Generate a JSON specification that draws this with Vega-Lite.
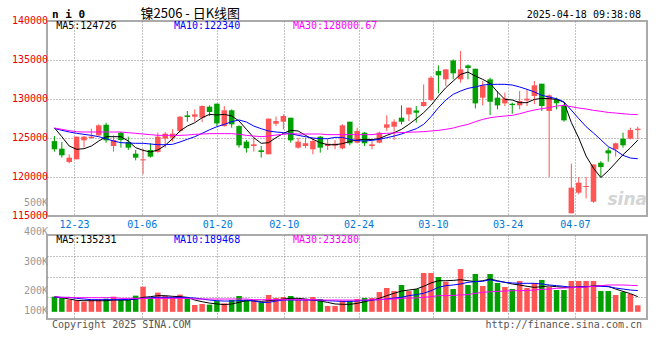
{
"$schema": "https://vega.github.io/schema/vega-lite/v6.json",
"background": "white",
"padding": {"left": 10, "top": 6, "right": 0, "bottom": 0},
"spacing": -4,
"config": {
 "view": {"stroke": "#aaaaaa", "strokeWidth": 2},
 "axis": {"ticks": false, "domain": false, "labelFont": "DejaVu Sans Mono", "labelFontSize": 10, "gridColor": "#888888", "gridDash": [1, 2], "gridWidth": 1, "gridOpacity": 1, "labelFlush": false, "labelOverlap": false}
},
"data": {"values": [
{"i":0,"d":"12-18","o":124600,"h":125250,"l":123250,"c":123550,"v":135000,"m5":126300,"m10":126230,"m30":126280,"vm5":135000,"vm10":129000,"vm30":135000},
{"i":1,"d":"12-19","o":123630,"h":124490,"l":122480,"c":122780,"v":126000,"m5":125170,"m10":125980,"m30":126110,"vm5":126000,"vm10":129000,"vm30":129000},
{"i":2,"d":"12-20","o":121920,"h":122900,"l":121750,"c":122480,"v":108000,"m5":123970,"m10":125770,"m30":125940,"vm5":114000,"vm10":129000,"vm30":126000},
{"i":3,"d":"12-23","o":122270,"h":125170,"l":122270,"c":125170,"v":102000,"m5":123550,"m10":125600,"m30":125810,"vm5":102000,"vm10":120000,"vm30":126000},
{"i":4,"d":"12-24","o":124700,"h":125250,"l":123800,"c":125170,"v":90000,"m5":123630,"m10":125470,"m30":125770,"vm5":99000,"vm10":114000,"vm30":126000},
{"i":5,"d":"12-25","o":125000,"h":126200,"l":124900,"c":125170,"v":108000,"m5":123970,"m10":125340,"m30":125770,"vm5":99000,"vm10":108000,"vm30":126000},
{"i":6,"d":"12-26","o":125340,"h":126750,"l":125250,"c":126620,"v":111000,"m5":124610,"m10":125170,"m30":125770,"vm5":99000,"vm10":108000,"vm30":126000},
{"i":7,"d":"12-27","o":126700,"h":126960,"l":124400,"c":124700,"v":117000,"m5":125170,"m10":124910,"m30":125770,"vm5":99000,"vm10":108000,"vm30":126000},
{"i":8,"d":"12-30","o":123970,"h":125340,"l":123250,"c":124740,"v":135000,"m5":125170,"m10":124610,"m30":125770,"vm5":105000,"vm10":108000,"vm30":126000},
{"i":9,"d":"12-31","o":125680,"h":125770,"l":123760,"c":124740,"v":108000,"m5":125170,"m10":124400,"m30":125770,"vm5":105000,"vm10":108000,"vm30":120000},
{"i":10,"d":"01-02","o":124480,"h":125170,"l":123460,"c":123760,"v":108000,"m5":124610,"m10":124360,"m30":125680,"vm5":105000,"vm10":111000,"vm30":120000},
{"i":11,"d":"01-03","o":122990,"h":123460,"l":122130,"c":122480,"v":144000,"m5":123760,"m10":124320,"m30":125600,"vm5":114000,"vm10":114000,"vm30":120000},
{"i":12,"d":"01-06","o":122130,"h":123630,"l":120340,"c":122270,"v":224000,"m5":123420,"m10":124320,"m30":125510,"vm5":129000,"vm10":120000,"vm30":120000},
{"i":13,"d":"01-07","o":123460,"h":124320,"l":122480,"c":122610,"v":123000,"m5":123200,"m10":124230,"m30":125430,"vm5":135000,"vm10":126000,"vm30":120000},
{"i":14,"d":"01-08","o":123210,"h":125680,"l":123120,"c":125170,"v":171000,"m5":123460,"m10":124140,"m30":125340,"vm5":144000,"vm10":129000,"vm30":120000},
{"i":15,"d":"01-09","o":124920,"h":125770,"l":123760,"c":125550,"v":141000,"m5":124060,"m10":124140,"m30":125340,"vm5":144000,"vm10":129000,"vm30":120000},
{"i":16,"d":"01-10","o":125040,"h":126110,"l":124530,"c":125550,"v":129000,"m5":124920,"m10":124190,"m30":125340,"vm5":138000,"vm10":129000,"vm30":120000},
{"i":17,"d":"01-13","o":125900,"h":127820,"l":125680,"c":127730,"v":153000,"m5":125900,"m10":124490,"m30":125340,"vm5":135000,"vm10":129000,"vm30":120000},
{"i":18,"d":"01-14","o":127900,"h":128460,"l":127100,"c":127690,"v":123000,"m5":126530,"m10":124830,"m30":125380,"vm5":129000,"vm10":126000,"vm30":120000},
{"i":19,"d":"01-15","o":127730,"h":128670,"l":127100,"c":128030,"v":61000,"m5":126960,"m10":125170,"m30":125470,"vm5":105000,"vm10":123000,"vm30":114000},
{"i":20,"d":"01-16","o":127600,"h":129180,"l":127050,"c":129100,"v":70000,"m5":127600,"m10":125600,"m30":125510,"vm5":90000,"vm10":114000,"vm30":114000},
{"i":21,"d":"01-17","o":129010,"h":129180,"l":127820,"c":128330,"v":64000,"m5":128030,"m10":126050,"m30":125560,"vm5":78000,"vm10":105000,"vm30":114000},
{"i":22,"d":"01-20","o":129400,"h":129400,"l":126530,"c":126870,"v":96000,"m5":127950,"m10":126450,"m30":125560,"vm5":70000,"vm10":99000,"vm30":114000},
{"i":23,"d":"01-21","o":126530,"h":129100,"l":126450,"c":128550,"v":75000,"m5":128030,"m10":126750,"m30":125560,"vm5":64000,"vm10":96000,"vm30":114000},
{"i":24,"d":"01-22","o":128550,"h":128670,"l":126320,"c":126750,"v":105000,"m5":127820,"m10":127090,"m30":125560,"vm5":70000,"vm10":96000,"vm30":114000},
{"i":25,"d":"01-23","o":126530,"h":126620,"l":123760,"c":124060,"v":141000,"m5":127180,"m10":127310,"m30":125470,"vm5":84000,"vm10":99000,"vm30":114000},
{"i":26,"d":"01-24","o":124530,"h":124740,"l":123120,"c":123680,"v":105000,"m5":126110,"m10":127050,"m30":125340,"vm5":99000,"vm10":105000,"vm30":114000},
{"i":27,"d":"01-27","o":123970,"h":125040,"l":123250,"c":124190,"v":99000,"m5":125040,"m10":126530,"m30":125250,"vm5":99000,"vm10":96000,"vm30":108000},
{"i":28,"d":"02-05","o":123420,"h":123970,"l":122480,"c":123200,"v":84000,"m5":124320,"m10":126190,"m30":125170,"vm5":93000,"vm10":84000,"vm30":108000},
{"i":29,"d":"02-06","o":122910,"h":127480,"l":122910,"c":127480,"v":150000,"m5":124400,"m10":125900,"m30":125250,"vm5":99000,"vm10":84000,"vm30":108000},
{"i":30,"d":"02-07","o":126830,"h":127740,"l":126530,"c":127170,"v":123000,"m5":125040,"m10":125770,"m30":125380,"vm5":105000,"vm10":96000,"vm30":108000},
{"i":31,"d":"02-10","o":127090,"h":128030,"l":126110,"c":127820,"v":132000,"m5":125600,"m10":125680,"m30":125470,"vm5":114000,"vm10":105000,"vm30":108000},
{"i":32,"d":"02-11","o":127600,"h":127600,"l":124400,"c":124700,"v":141000,"m5":125980,"m10":125550,"m30":125560,"vm5":120000,"vm10":105000,"vm30":108000},
{"i":33,"d":"02-12","o":123760,"h":125040,"l":123630,"c":124530,"v":105000,"m5":125900,"m10":125340,"m30":125510,"vm5":120000,"vm10":105000,"vm30":108000},
{"i":34,"d":"02-13","o":123970,"h":125040,"l":123680,"c":124320,"v":105000,"m5":125340,"m10":125170,"m30":125510,"vm5":114000,"vm10":105000,"vm30":108000},
{"i":35,"d":"02-14","o":123550,"h":125040,"l":122910,"c":124610,"v":132000,"m5":124830,"m10":125000,"m30":125510,"vm5":105000,"vm10":105000,"vm30":108000},
{"i":36,"d":"02-17","o":125170,"h":125250,"l":123120,"c":123760,"v":114000,"m5":124400,"m10":124910,"m30":125510,"vm5":96000,"vm10":105000,"vm30":105000},
{"i":37,"d":"02-18","o":123970,"h":124830,"l":123460,"c":124270,"v":52000,"m5":124140,"m10":124910,"m30":125430,"vm5":84000,"vm10":99000,"vm30":105000},
{"i":38,"d":"02-19","o":124020,"h":124740,"l":123550,"c":124270,"v":52000,"m5":124140,"m10":125080,"m30":125430,"vm5":70000,"vm10":96000,"vm30":105000},
{"i":39,"d":"02-20","o":123680,"h":126750,"l":123550,"c":126620,"v":99000,"m5":124270,"m10":125080,"m30":125430,"vm5":67000,"vm10":93000,"vm30":105000},
{"i":40,"d":"02-21","o":127090,"h":127090,"l":124060,"c":124320,"v":99000,"m5":124570,"m10":124830,"m30":125430,"vm5":67000,"vm10":93000,"vm30":105000},
{"i":41,"d":"02-24","o":124400,"h":126320,"l":124320,"c":125900,"v":114000,"m5":124740,"m10":124660,"m30":125430,"vm5":75000,"vm10":96000,"vm30":105000},
{"i":42,"d":"02-25","o":125680,"h":125770,"l":123970,"c":124320,"v":123000,"m5":124830,"m10":124610,"m30":125430,"vm5":90000,"vm10":102000,"vm30":105000},
{"i":43,"d":"02-26","o":123970,"h":124620,"l":123550,"c":124190,"v":123000,"m5":124790,"m10":124700,"m30":125430,"vm5":105000,"vm10":105000,"vm30":107000},
{"i":44,"d":"02-27","o":124400,"h":125810,"l":124320,"c":125680,"v":176000,"m5":124920,"m10":124830,"m30":125550,"vm5":120000,"vm10":108000,"vm30":110000},
{"i":45,"d":"02-28","o":126320,"h":127900,"l":125900,"c":126750,"v":212000,"m5":125340,"m10":125040,"m30":125600,"vm5":144000,"vm10":114000,"vm30":112000},
{"i":46,"d":"03-03","o":126450,"h":127390,"l":124740,"c":127090,"v":185000,"m5":125680,"m10":125250,"m30":125650,"vm5":165000,"vm10":123000,"vm30":114000},
{"i":47,"d":"03-04","o":127600,"h":129180,"l":126750,"c":127090,"v":239000,"m5":126110,"m10":125510,"m30":125700,"vm5":185000,"vm10":129000,"vm30":120000},
{"i":48,"d":"03-05","o":128030,"h":128890,"l":127180,"c":128890,"v":185000,"m5":126750,"m10":125860,"m30":125740,"vm5":194000,"vm10":144000,"vm30":123000},
{"i":49,"d":"03-06","o":128530,"h":129100,"l":126960,"c":128240,"v":203000,"m5":127470,"m10":126190,"m30":125770,"vm5":203000,"vm10":153000,"vm30":123000},
{"i":50,"d":"03-07","o":129100,"h":131870,"l":129010,"c":129610,"v":346000,"m5":128250,"m10":126750,"m30":125810,"vm5":227000,"vm10":165000,"vm30":129000},
{"i":51,"d":"03-10","o":129870,"h":132940,"l":129740,"c":132730,"v":346000,"m5":129190,"m10":127730,"m30":125900,"vm5":257000,"vm10":188000,"vm30":135000},
{"i":52,"d":"03-11","o":133580,"h":134300,"l":130720,"c":133030,"v":310000,"m5":130380,"m10":128880,"m30":125980,"vm5":277000,"vm10":218000,"vm30":144000},
{"i":53,"d":"03-12","o":132520,"h":133800,"l":131660,"c":133800,"v":268000,"m5":131450,"m10":129870,"m30":126110,"vm5":277000,"vm10":233000,"vm30":144000},
{"i":54,"d":"03-13","o":134940,"h":135080,"l":132520,"c":133290,"v":203000,"m5":132300,"m10":130600,"m30":126280,"vm5":280000,"vm10":239000,"vm30":147000},
{"i":55,"d":"03-14","o":132520,"h":136150,"l":132090,"c":133800,"v":381000,"m5":133160,"m10":131020,"m30":126530,"vm5":286000,"vm10":248000,"vm30":150000},
{"i":56,"d":"03-17","o":134300,"h":134430,"l":132520,"c":133970,"v":239000,"m5":133450,"m10":131370,"m30":126750,"vm5":277000,"vm10":263000,"vm30":153000},
{"i":57,"d":"03-18","o":133880,"h":133880,"l":128790,"c":129440,"v":337000,"m5":132950,"m10":131540,"m30":127090,"vm5":269000,"vm10":269000,"vm30":165000},
{"i":58,"d":"03-19","o":130170,"h":132300,"l":129180,"c":131750,"v":230000,"m5":132520,"m10":131790,"m30":127390,"vm5":277000,"vm10":272000,"vm30":173000},
{"i":59,"d":"03-20","o":132520,"h":132730,"l":127940,"c":129650,"v":337000,"m5":132010,"m10":131880,"m30":127600,"vm5":292000,"vm10":286000,"vm30":179000},
{"i":60,"d":"03-21","o":130170,"h":131020,"l":128670,"c":129180,"v":257000,"m5":130900,"m10":131880,"m30":127730,"vm5":277000,"vm10":272000,"vm30":182000},
{"i":61,"d":"03-24","o":129440,"h":130810,"l":129100,"c":130080,"v":221000,"m5":129950,"m10":131880,"m30":127820,"vm5":263000,"vm10":263000,"vm30":185000},
{"i":62,"d":"03-25","o":129390,"h":129530,"l":128110,"c":129220,"v":203000,"m5":129870,"m10":131790,"m30":127900,"vm5":248000,"vm10":257000,"vm30":188000},
{"i":63,"d":"03-26","o":129180,"h":131020,"l":128670,"c":129740,"v":275000,"m5":129530,"m10":131540,"m30":128110,"vm5":239000,"vm10":254000,"vm30":188000},
{"i":64,"d":"03-27","o":129820,"h":131240,"l":129100,"c":130040,"v":212000,"m5":129530,"m10":131240,"m30":128370,"vm5":227000,"vm10":254000,"vm30":191000},
{"i":65,"d":"03-28","o":130380,"h":132300,"l":129350,"c":131750,"v":257000,"m5":129950,"m10":130900,"m30":128590,"vm5":218000,"vm10":254000,"vm30":194000},
{"i":66,"d":"03-31","o":131960,"h":131960,"l":128460,"c":129100,"v":284000,"m5":130080,"m10":130470,"m30":128760,"vm5":224000,"vm10":248000,"vm30":200000},
{"i":67,"d":"04-01","o":128460,"h":130600,"l":120000,"c":130470,"v":221000,"m5":130040,"m10":130250,"m30":128890,"vm5":230000,"vm10":239000,"vm30":203000},
{"i":68,"d":"04-02","o":129950,"h":130170,"l":128670,"c":129440,"v":194000,"m5":129950,"m10":130040,"m30":129100,"vm5":224000,"vm10":233000,"vm30":209000},
{"i":69,"d":"04-03","o":129180,"h":129310,"l":127090,"c":127260,"v":194000,"m5":129604,"m10":129628,"m30":129180,"vm5":218000,"vm10":227000,"vm30":212000},
{"i":70,"d":"04-07","o":115340,"h":121700,"l":115340,"c":118630,"v":275000,"m5":126980,"m10":128573,"m30":129010,"vm5":218000,"vm10":218000,"vm30":215000},
{"i":71,"d":"04-08","o":117990,"h":120000,"l":117770,"c":119270,"v":275000,"m5":125014,"m10":127492,"m30":128840,"vm5":221000,"vm10":221000,"vm30":218000},
{"i":72,"d":"04-09","o":118720,"h":120000,"l":117260,"c":118850,"v":275000,"m5":122690,"m10":126455,"m30":128720,"vm5":224000,"vm10":224000,"vm30":221000},
{"i":73,"d":"04-10","o":116830,"h":121610,"l":116700,"c":121610,"v":275000,"m5":121124,"m10":125642,"m30":128540,"vm5":230000,"vm10":227000,"vm30":227000},
{"i":74,"d":"04-11","o":121830,"h":122040,"l":120000,"c":121270,"v":185000,"m5":119926,"m10":124765,"m30":128420,"vm5":233000,"vm10":227000,"vm30":233000},
{"i":75,"d":"04-14","o":123420,"h":123760,"l":121960,"c":123030,"v":185000,"m5":120806,"m10":123893,"m30":128280,"vm5":227000,"vm10":224000,"vm30":239000},
{"i":76,"d":"04-15","o":123550,"h":124400,"l":122610,"c":124320,"v":150000,"m5":121816,"m10":123415,"m30":128200,"vm5":203000,"vm10":212000,"vm30":239000},
{"i":77,"d":"04-16","o":124910,"h":125680,"l":123760,"c":124060,"v":176000,"m5":122858,"m10":122774,"m30":128110,"vm5":182000,"vm10":203000,"vm30":239000},
{"i":78,"d":"04-17","o":124910,"h":126320,"l":124830,"c":126020,"v":159000,"m5":123740,"m10":122432,"m30":128030,"vm5":162000,"vm10":194000,"vm30":236000},
{"i":79,"d":"04-18","o":126020,"h":126450,"l":124830,"c":126190,"v":58000,"m5":124726,"m10":122340,"m30":128001,"vm5":135231,"vm10":189468,"vm30":233280}
]},
"vconcat": [
{
 "width": 600, "height": 195,
 "layer": [
  {"mark": {"type": "rule", "strokeWidth": 1},
   "encoding": {
    "x": {"field": "i", "type": "quantitative", "scale": {"domain": [-0.333, 79.57], "nice": false, "zero": false},
          "axis": {"title": null, "values": [2.64, 11.83, 22.04, 31.06, 41.18, 51.25, 61.37, 70.48], "grid": true, "labelColor": "#0077dd", "labelPadding": 3, "labelOverlap": false, "labelFlush": false,
                   "labelExpr": "datum.value < 5 ? '12-23' : datum.value < 15 ? '01-06' : datum.value < 25 ? '01-20' : datum.value < 35 ? '02-10' : datum.value < 45 ? '02-24' : datum.value < 55 ? '03-10' : datum.value < 65 ? '03-24' : '04-07'"}},
    "y": {"field": "l", "type": "quantitative", "scale": {"domain": [115000, 140000], "nice": false, "zero": false},
          "axis": {"title": null, "values": [120000, 125000, 130000, 135000], "grid": true, "labels": false}},
    "y2": {"field": "h"},
    "color": {"condition": {"test": "datum.c >= datum.o", "value": "#ff5555"}, "value": "#00a000"}
   }},
  {"mark": {"type": "bar", "size": 5.5},
   "encoding": {
    "x": {"field": "i", "type": "quantitative"},
    "y": {"field": "o", "type": "quantitative"},
    "y2": {"field": "c"},
    "color": {"condition": {"test": "datum.c >= datum.o", "value": "#ff5555"}, "value": "#00a000"}
   }},
  {"mark": {"type": "line", "color": "#000000", "strokeWidth": 1},
   "encoding": {"x": {"field": "i", "type": "quantitative"}, "y": {"field": "m5", "type": "quantitative"}}},
  {"mark": {"type": "line", "color": "#0000ff", "strokeWidth": 1},
   "encoding": {"x": {"field": "i", "type": "quantitative"}, "y": {"field": "m10", "type": "quantitative"}}},
  {"mark": {"type": "line", "color": "#ff00ff", "strokeWidth": 1},
   "encoding": {"x": {"field": "i", "type": "quantitative"}, "y": {"field": "m30", "type": "quantitative"}}},
  {"data": {"values": [{}]}, "mark": {"type": "text", "text": "sina", "font": "DejaVu Sans", "fontSize": 17, "fontWeight": "bold", "fontStyle": "italic", "color": "#d4d4d4", "align": "center", "baseline": "middle"},
   "encoding": {"x": {"datum": 77.57}, "y": {"datum": 117090}}},
  {"data": {"values": [{"t": "140000", "y": 140000}, {"t": "135000", "y": 135000}, {"t": "130000", "y": 130000}, {"t": "125000", "y": 125000}, {"t": "120000", "y": 120000}, {"t": "115000", "y": 115000}]},
   "mark": {"type": "text", "font": "DejaVu Sans Mono", "fontSize": 10, "color": "#ee0000", "align": "right", "baseline": "middle", "dx": -4},
   "encoding": {"x": {"datum": -0.333}, "y": {"field": "y", "type": "quantitative"}, "text": {"field": "t"}}},
  {"data": {"values": [{}]}, "mark": {"type": "text", "text": "500K", "font": "DejaVu Sans Mono", "fontSize": 10, "color": "#999999", "align": "right", "baseline": "middle", "dx": -4},
   "encoding": {"x": {"datum": -0.333}, "y": {"datum": 116700}}},
  {"data": {"values": [{}]}, "mark": {"type": "text", "text": "n i 0", "font": "DejaVu Sans Mono", "fontSize": 11, "fontWeight": "bold", "color": "#000000", "align": "left", "baseline": "middle"},
   "encoding": {"x": {"datum": -0.333}, "y": {"datum": 140808}}},
  {"data": {"values": [{}]}, "mark": {"type": "text", "text": "镍2506  -  日K线图", "font": "Noto Sans CJK SC", "fontSize": 13, "color": "#000000", "align": "left", "baseline": "middle"},
   "encoding": {"x": {"datum": 11.65}, "y": {"datum": 140936}}},
  {"data": {"values": [{}]}, "mark": {"type": "text", "text": "2025-04-18 09:38:08", "font": "DejaVu Sans Mono", "fontSize": 10, "color": "#000000", "align": "right", "baseline": "middle"},
   "encoding": {"x": {"datum": 79.44}, "y": {"datum": 140808}}},
  {"data": {"values": [{}]}, "mark": {"type": "text", "text": "MA5:124726", "font": "DejaVu Sans Mono", "fontSize": 10, "color": "#000000", "align": "left", "baseline": "middle"},
   "encoding": {"x": {"datum": 0.24}, "y": {"datum": 139308}}},
  {"data": {"values": [{}]}, "mark": {"type": "text", "text": "MA10:122340", "font": "DejaVu Sans Mono", "fontSize": 10, "color": "#0000ff", "align": "left", "baseline": "middle"},
   "encoding": {"x": {"datum": 16.18}, "y": {"datum": 139308}}},
  {"data": {"values": [{}]}, "mark": {"type": "text", "text": "MA30:128000.67", "font": "DejaVu Sans Mono", "fontSize": 10, "color": "#ff00ff", "align": "left", "baseline": "middle"},
   "encoding": {"x": {"datum": 32.29}, "y": {"datum": 139308}}}
 ]
},
{
 "width": 600, "height": 84,
 "layer": [
  {"mark": {"type": "bar", "size": 5.5},
   "encoding": {
    "x": {"field": "i", "type": "quantitative", "scale": {"domain": [-0.333, 79.57], "nice": false, "zero": false},
          "axis": {"title": null, "values": [2.64, 11.83, 22.04, 31.06, 41.18, 51.25, 61.37, 70.48], "grid": true, "labels": false}},
    "y": {"field": "v", "type": "quantitative", "scale": {"domain": [-64000, 684500], "nice": false, "zero": false},
          "axis": {"title": null, "values": [494700, 312800, 134600], "grid": true, "labels": false}},
    "y2": {"datum": 0},
    "color": {"condition": {"test": "datum.c >= datum.o", "value": "#ff5555"}, "value": "#00a000"}
   }},
  {"mark": {"type": "line", "color": "#000000", "strokeWidth": 1},
   "encoding": {"x": {"field": "i", "type": "quantitative"}, "y": {"field": "vm5", "type": "quantitative"}}},
  {"mark": {"type": "line", "color": "#0000ff", "strokeWidth": 1},
   "encoding": {"x": {"field": "i", "type": "quantitative"}, "y": {"field": "vm10", "type": "quantitative"}}},
  {"mark": {"type": "line", "color": "#ff00ff", "strokeWidth": 1},
   "encoding": {"x": {"field": "i", "type": "quantitative"}, "y": {"field": "vm30", "type": "quantitative"}}},
  {"data": {"values": [{"t": "400K", "y": 711000}, {"t": "300K", "y": 443900}, {"t": "200K", "y": 185400}, {"t": "100K", "y": 7100}]},
   "mark": {"type": "text", "font": "DejaVu Sans Mono", "fontSize": 10, "color": "#999999", "align": "right", "baseline": "middle", "dx": -4},
   "encoding": {"x": {"datum": -0.333}, "y": {"field": "y", "type": "quantitative"}, "text": {"field": "t"}}},
  {"data": {"values": [{}]}, "mark": {"type": "text", "text": "MA5:135231", "font": "DejaVu Sans Mono", "fontSize": 10, "color": "#000000", "align": "left", "baseline": "middle"},
   "encoding": {"x": {"datum": 0.24}, "y": {"datum": 644400}}},
  {"data": {"values": [{}]}, "mark": {"type": "text", "text": "MA10:189468", "font": "DejaVu Sans Mono", "fontSize": 10, "color": "#0000ff", "align": "left", "baseline": "middle"},
   "encoding": {"x": {"datum": 16.18}, "y": {"datum": 644400}}},
  {"data": {"values": [{}]}, "mark": {"type": "text", "text": "MA30:233280", "font": "DejaVu Sans Mono", "fontSize": 10, "color": "#ff00ff", "align": "left", "baseline": "middle"},
   "encoding": {"x": {"datum": 32.29}, "y": {"datum": 644400}}},
  {"data": {"values": [{}]}, "mark": {"type": "text", "text": "Copyright 2025 SINA.COM", "font": "DejaVu Sans Mono", "fontSize": 10, "color": "#555555", "align": "left", "baseline": "middle"},
   "encoding": {"x": {"datum": -0.333}, "y": {"datum": -115000}}},
  {"data": {"values": [{}]}, "mark": {"type": "text", "text": "http://finance.sina.com.cn", "font": "DejaVu Sans Mono", "fontSize": 10, "color": "#555555", "align": "right", "baseline": "middle"},
   "encoding": {"x": {"datum": 79.57}, "y": {"datum": -115000}}}
 ]
}
]
}
